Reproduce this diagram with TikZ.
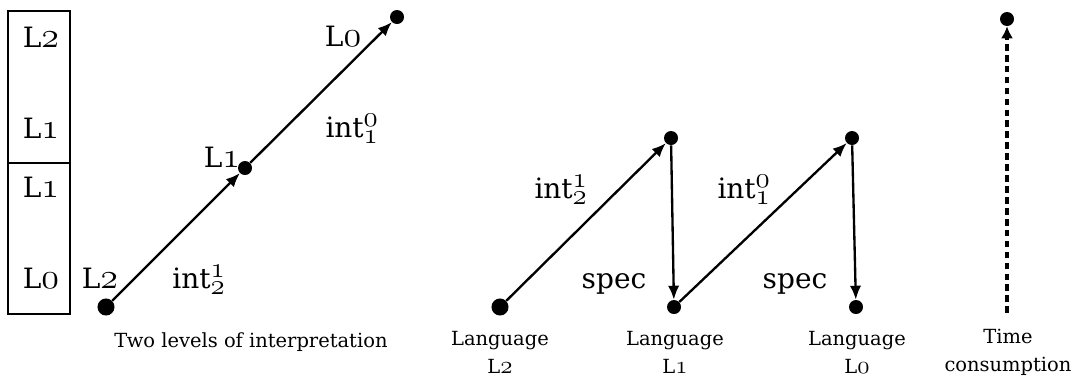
\documentclass[tikz,border=0pt]{standalone}
\usepackage{fontspec}
\usepackage{graphicx}
\setmainfont{DejaVu Serif}
\usetikzlibrary{arrows.meta}
\newcommand{\osn}[1]{\scalebox{1.3}{$\mathnormal{#1}$}}
\newcommand{\scr}[1]{\scalebox{1.5}{$\scriptstyle\mathnormal{#1}$}}
\newcommand{\intl}[2]{int$^{\scr{#1}}_{\scr{#2}}$}
\begin{document}
\begin{tikzpicture}[x=0.75pt,y=-0.75pt,
  big/.style={font=\fontsize{21}{24}\selectfont},
  small/.style={font=\fontsize{14.6}{17}\selectfont},
  lbl/.style={big,anchor=base,inner sep=0pt},
  captext/.style={small,anchor=base,inner sep=0pt},
  bigdot/.style={circle,fill=black,inner sep=0pt,minimum size=12.8pt},
  dot/.style={circle,fill=black,inner sep=0pt,minimum size=10.5pt},
  arr/.style={line width=1.75pt,-{Latex[length=10.5pt,width=8.5pt]}},
  darr/.style={line width=2.5pt,dash pattern=on 5pt off 3.2pt,-{Latex[length=9pt,width=9pt]}}]
\useasboundingbox (0,0) rectangle (1077,383);
% left box
\draw[line width=1.75pt] (8,11) rectangle (70,314);
\draw[line width=1.75pt] (8,163) -- (70,163);
\node[lbl] (b1) at (41,47) {L\osn{2}};
\node[lbl] (b2) at (41,138) {L\osn{1}};
\node[lbl] (b3) at (41,197) {L\osn{1}};
\node[lbl] (b4) at (41,288) {L\osn{0}};
% left diagram
\node[bigdot] (a0) at (106,307) {};
\node[dot] (a1) at (245,168) {};
\node[dot] (a2) at (397,17) {};
\draw[arr] (a0) -- (a1);
\draw[arr] (a1) -- (a2);
\node[lbl] (la0) at (100,288) {L\osn{2}};
\node[lbl] (la1) at (222,167) {L\osn{1}};
\node[lbl] (la2) at (343,46) {L\osn{0}};
\node[lbl] (ia) at (199,288) {\intl{1}{2}};
\node[lbl] (ib) at (352,137) {\intl{0}{1}};
\node[captext] (ca) at (251,347) {Two levels of interpretation};
% middle diagram
\node[bigdot] (m0) at (500,307) {};
\node[dot] (m1) at (671,138) {};
\node[dot] (m2) at (674,307) {};
\node[dot] (m3) at (852,138) {};
\node[dot] (m4) at (856,307) {};
\draw[arr] (m0) -- (m1);
\draw[arr] (m1) -- (m2);
\draw[arr] (m2) -- (m3);
\draw[arr] (m3) -- (m4);
\node[lbl] (ic) at (561,198) {\intl{1}{2}};
\node[lbl] (id) at (744,198) {\intl{0}{1}};
\node[lbl] (s1) at (614,288) {spec};
\node[lbl] (s2) at (795,288) {spec};
\node[captext] (g0) at (500,345) {Language};
\node[captext] (g0b) at (500,373) {L\osn{2}};
\node[captext] (g1) at (675,345) {Language};
\node[captext] (g1b) at (675,373) {L\osn{1}};
\node[captext] (g2) at (857,345) {Language};
\node[captext] (g2b) at (857,373) {L\osn{0}};
% time
\node[dot] (t1) at (1007,19) {};
\coordinate (t0) at (1007,313);
\draw[darr] (t0) -- (t1);
\node[captext] (tc) at (1008,343) {Time};
\node[captext] (tc2) at (1008,371) {consumption};
\end{tikzpicture}
\end{document}
